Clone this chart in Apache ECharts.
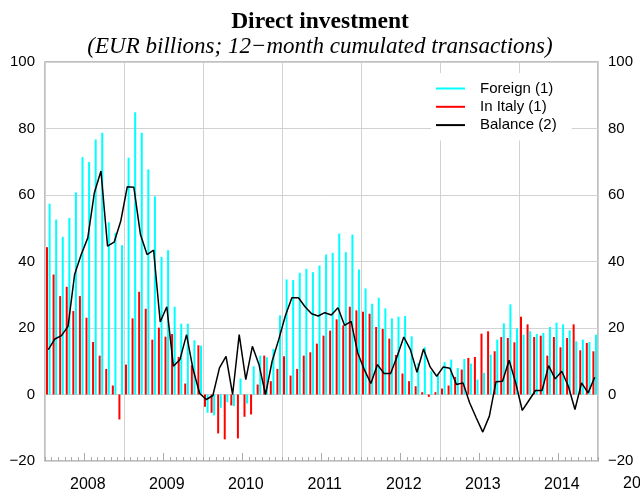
<!DOCTYPE html>
<html>
<head>
<meta charset="utf-8">
<script src="https://cdn.jsdelivr.net/npm/echarts@6/dist/echarts.min.js"></script>
<style>
html, body { margin: 0; padding: 0; background: #fff; }
#chart { width: 640px; height: 495px; }
</style>
</head>
<body>
<div id="chart"></div>
<script>
var years = ['2008', '2009', '2010', '2011', '2012', '2013', '2014'];
var monthNames = ['01', '02', '03', '04', '05', '06', '07', '08', '09', '10', '11', '12'];

// investimenti in Italia (rosso)
var italy = [
	44.3, 36.1, 29.6, 32.4, 25.1, 29.6, 23.1, 15.8, 11.7, 7.7, 2.7, -7.5,
	9.0, 22.9, 30.9, 25.8, 16.5, 20.1, 17.4, 18.2, 11.3, 3.3, 8.8, 14.8,
	-3.7, -5.5, -11.7, -13.5, -3.3, -13.2, -6.7, -6.0, 3.0, 11.7, 4.0, 7.7,
	11.5, 5.7, 7.7, 11.7, 12.7, 15.3, 17.7, 19.2, 22.6, 20.8, 26.4, 25.3,
	24.9, 24.3, 20.3, 19.7, 16.8, 11.9, 6.3, 4.0, 2.5, 0.7, -0.7, 0.7,
	1.8, 2.7, 5.3, 7.5, 11.0, 11.3, 18.3, 19.0, 13.0, 17.3, 17.0, 15.7,
	23.4, 21.1, 17.3, 17.7, 11.7, 17.3, 14.2, 17.0, 21.1, 13.3, 15.5, 13.0
];
// investimenti esteri (ciano)
var foreign = [
	57.4, 52.6, 47.4, 53.1, 60.8, 71.4, 69.9, 76.7, 78.7, 51.8, 48.6, 44.9,
	71.2, 84.9, 78.7, 67.7, 59.6, 41.4, 43.4, 26.4, 21.3, 21.3, 16.3, 14.7,
	-5.5, -6.3, -4.0, -2.3, -3.5, 4.8, -2.7, 8.5, 11.7, 11.2, 13.7, 23.8,
	34.6, 34.4, 36.6, 37.8, 36.8, 38.8, 42.1, 42.6, 48.4, 42.8, 48.1, 37.6,
	31.9, 27.3, 29.1, 25.9, 22.9, 23.4, 23.6, 17.5, 9.5, 14.2, 7.0, 5.8,
	9.7, 10.5, 8.0, 10.7, 9.3, 4.5, 6.5, 12.0, 16.5, 21.4, 27.1, 19.9,
	18.0, 19.0, 18.2, 18.5, 20.3, 21.6, 21.1, 19.3, 16.0, 16.5, 15.8, 18.0
];
// saldo (nero)
var balance = [
	13.5, 16.7, 17.7, 20.5, 36.1, 42.1, 47.1, 60.7, 67.2, 44.6, 45.8, 52.1,
	62.5, 62.3, 48.1, 42.1, 43.4, 21.8, 26.4, 8.5, 10.5, 18.0, 7.5, 0.3,
	-1.5, -0.3, 8.0, 11.5, 0.0, 18.0, 4.5, 14.5, 9.0, 0.0, 10.0, 16.5,
	23.6, 29.1, 29.1, 26.4, 24.3, 23.6, 24.6, 23.9, 26.1, 20.8, 22.0, 12.5,
	7.5, 3.3, 9.0, 6.3, 6.3, 11.5, 17.3, 13.5, 6.7, 13.7, 8.3, 5.5,
	8.3, 7.9, 3.0, 3.5, -2.5, -7.0, -11.3, -6.5, 3.8, 4.0, 10.3, 3.5,
	-4.8, -1.8, 1.2, 1.2, 8.7, 4.7, 7.0, 2.5, -4.5, 3.5, 0.5, 5.2
];

var months = [];
for (var y = 0; y < years.length; y++) {
	for (var m = 0; m < monthNames.length; m++) {
		months.push(years[y] + '-' + monthNames[m]);
	}
}

var sans = 'Liberation Sans';
var serif = 'Liberation Serif';
var gridColor = '#d2d2d2';
var axisColor = '#aaaaaa';

function yLabel(v) {
	return v < 0 ? '\u2212' + Math.abs(v) : String(v);
}

var chart = echarts.init(document.getElementById('chart'));

var option = {
	animation: false,
	backgroundColor: '#fff',
	title: [{
		text: 'Direct investment',
		left: 'center',
		top: 5,
		textStyle: { fontFamily: serif, fontWeight: 'bold', fontSize: 23.5, color: '#000' }
	}, {
		text: '(EUR billions; 12\u2212month cumulated transactions)',
		left: 'center',
		top: 30,
		textStyle: { fontFamily: serif, fontStyle: 'italic', fontWeight: 'normal', fontSize: 23, color: '#000' }
	}],
	legend: {
		data: ['Foreign (1)', 'In Italy (1)', 'Balance (2)'],
		orient: 'vertical',
		left: 431,
		top: 73,
		backgroundColor: '#fff',
		padding: [8, 15, 8, 5],
		icon: 'rect',
		itemWidth: 29,
		itemHeight: 2,
		itemGap: 3.3,
		textStyle: { fontFamily: sans, fontSize: 15, lineHeight: 15, color: '#000', padding: [0, 0, 0, 10] }
	},
	grid: {
		left: 45, right: 42, top: 62, bottom: 34,
		show: true,
		borderColor: axisColor,
		borderWidth: 1.5
	},
	xAxis: [{
		type: 'category',
		data: months,
		boundaryGap: true,
		axisLine: { show: false, onZero: false },
		axisTick: { show: true, inside: true, length: 4, interval: 0, lineStyle: { color: axisColor } },
		axisLabel: {
			interval: function (i) { return i % 12 === 6; },
			formatter: function (v) { return v.slice(0, 4); },
			fontFamily: sans, fontSize: 16, color: '#000', margin: 16
		},
		splitLine: {
			show: true,
			interval: function (i) { return i % 12 === 0; },
			lineStyle: { color: gridColor, width: 1 }
		}
	}, {
		type: 'category',
		data: years,
		position: 'bottom',
		boundaryGap: true,
		axisLine: { show: false, onZero: false },
		axisTick: { show: true, inside: true, length: 8, alignWithLabel: true, lineStyle: { color: axisColor } },
		axisLabel: { show: false },
		splitLine: { show: false }
	}],
	yAxis: [{
		type: 'value',
		min: -20, max: 100, interval: 20,
		axisLine: { show: false },
		axisTick: { show: false },
		axisLabel: { formatter: yLabel, fontFamily: sans, fontSize: 15, color: '#000', margin: 10 },
		splitLine: { lineStyle: { color: gridColor, width: 1 } }
	}, {
		type: 'value',
		position: 'right',
		min: -20, max: 100, interval: 20,
		axisLine: { show: false },
		axisTick: { show: false },
		axisLabel: { formatter: yLabel, fontFamily: sans, fontSize: 15, color: '#000', margin: 10 },
		splitLine: { show: false }
	}],
	graphic: [{
		type: 'text',
		left: 623,
		top: 476,
		style: { text: '2015', font: '16px "Liberation Sans"', fill: '#000' }
	}],
	series: [{
		name: 'In Italy (1)',
		type: 'bar',
		data: italy,
		barWidth: 2,
		barGap: '30%',
		itemStyle: { color: '#ff0000' }
	}, {
		name: 'Foreign (1)',
		type: 'bar',
		data: foreign,
		barWidth: 2,
		barGap: '30%',
		itemStyle: { color: '#00ffff' }
	}, {
		name: 'Balance (2)',
		type: 'line',
		data: balance,
		symbol: 'none',
		lineStyle: { color: '#000', width: 1.5 },
		itemStyle: { color: '#000' },
		z: 3
	}]
};

chart.setOption(option);
</script>
</body>
</html>
